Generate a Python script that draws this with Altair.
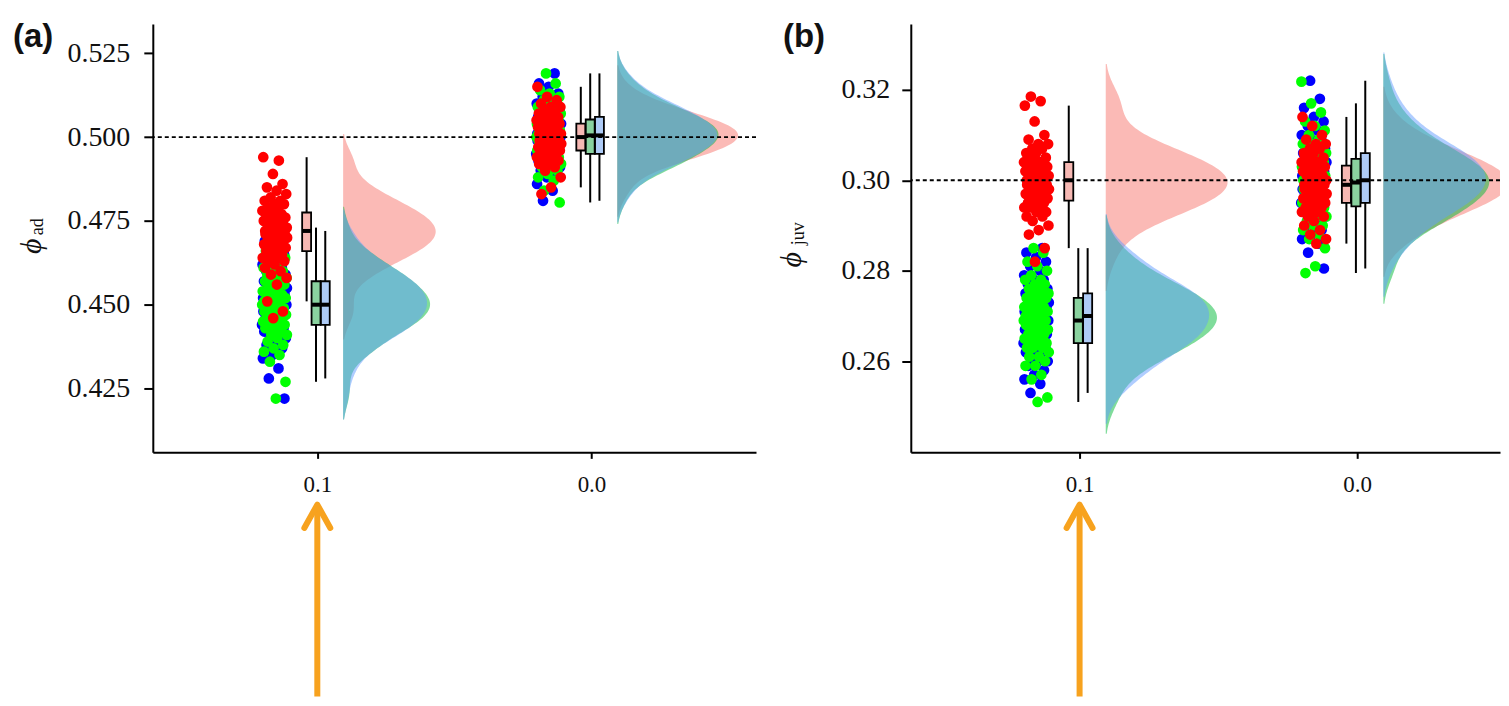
import altair as alt
import pandas as pd

# ---------------- data ----------------
CATEGORIES = ["0.1", "0.0"]          # x tick labels, left to right
HIGHLIGHT = "0.1"                    # category marked by the orange arrow
SERIES = ["blue", "green", "red"]    # drawing order of the jittered points

PANEL_LETTERS = ["(a)", "(b)"]
Y_SYMBOL = "ϕ"
Y_SUBSCRIPTS = ["ad", "juv"]
TRUE_VALUES = [0.500, 0.300]
Y_TICKS_A = [0.425, 0.450, 0.475, 0.500, 0.525]
Y_TICKS_B = [0.26, 0.28, 0.30, 0.32]

# panel (a): phi_ad
A01_RED = [0.472,0.472,0.473,0.473,0.474,0.474,0.474,0.475,0.475,0.475,0.476,0.476,0.476,0.477,0.477,0.478,0.478,0.479,0.479,0.480,0.480,0.481,0.481,0.482,0.483,0.484,0.485,0.486,0.489,0.494,0.493,
           0.472,0.471,0.471,0.471,0.470,0.470,0.470,0.469,0.469,0.469,0.468,0.468,0.467,0.467,0.467,0.466,0.466,0.465,0.465,0.464,0.464,0.463,0.463,0.462,0.461,0.460,0.459,0.458,0.456,0.451,0.448,0.446]
A01_GREEN = [0.451,0.451,0.451,0.452,0.452,0.453,0.453,0.453,0.454,0.454,0.455,0.455,0.456,0.456,0.457,0.457,0.458,0.458,0.459,0.459,0.460,0.460,0.461,0.462,0.463,0.464,0.465,0.466,0.468,0.473,
             0.450,0.450,0.450,0.449,0.449,0.448,0.448,0.448,0.447,0.447,0.446,0.446,0.445,0.445,0.445,0.444,0.444,0.443,0.443,0.442,0.441,0.441,0.440,0.439,0.438,0.437,0.436,0.435,0.433,0.427,0.422]
A01_BLUE = [0.451,0.451,0.452,0.452,0.452,0.453,0.453,0.454,0.454,0.454,0.455,0.455,0.456,0.456,0.457,0.457,0.458,0.458,0.459,0.459,0.460,0.461,0.461,0.462,0.463,0.464,0.465,0.467,0.469,0.472,
            0.450,0.450,0.449,0.449,0.449,0.448,0.448,0.447,0.447,0.447,0.446,0.446,0.445,0.445,0.444,0.444,0.443,0.443,0.442,0.442,0.441,0.440,0.440,0.439,0.438,0.437,0.435,0.434,0.431,0.428,0.422]
A00_RED = [0.501,0.501,0.501,0.501,0.502,0.502,0.502,0.502,0.503,0.503,0.503,0.504,0.504,0.504,0.504,0.505,0.505,0.505,0.506,0.506,0.507,0.507,0.507,0.508,0.509,0.509,0.510,0.511,0.512,0.515,
           0.500,0.500,0.500,0.500,0.499,0.499,0.499,0.498,0.498,0.498,0.498,0.497,0.497,0.497,0.496,0.496,0.496,0.496,0.495,0.495,0.494,0.494,0.493,0.493,0.492,0.492,0.491,0.490,0.488,0.485,0.483]
A00_GREEN = [0.501,0.501,0.501,0.501,0.502,0.502,0.503,0.503,0.503,0.504,0.504,0.504,0.505,0.505,0.505,0.506,0.506,0.507,0.507,0.508,0.508,0.509,0.509,0.510,0.511,0.512,0.513,0.514,0.516,0.519,
             0.500,0.500,0.500,0.499,0.499,0.499,0.498,0.498,0.498,0.497,0.497,0.496,0.496,0.496,0.495,0.495,0.494,0.494,0.493,0.493,0.492,0.492,0.491,0.491,0.490,0.489,0.488,0.487,0.484,0.4805]
A00_BLUE = [0.501,0.501,0.501,0.502,0.502,0.502,0.503,0.503,0.504,0.504,0.504,0.505,0.505,0.505,0.506,0.506,0.507,0.507,0.508,0.508,0.509,0.509,0.510,0.510,0.511,0.512,0.513,0.515,0.516,0.519,
            0.500,0.500,0.500,0.500,0.499,0.499,0.499,0.498,0.498,0.497,0.497,0.497,0.496,0.496,0.495,0.495,0.494,0.494,0.494,0.493,0.493,0.492,0.491,0.491,0.490,0.489,0.488,0.486,0.484,0.481]

# panel (b): phi_juv
B01_RED = [0.300,0.300,0.300,0.301,0.301,0.301,0.301,0.302,0.302,0.302,0.302,0.303,0.303,0.303,0.304,0.304,0.304,0.304,0.305,0.305,0.306,0.306,0.307,0.307,0.308,0.308,0.309,0.310,0.313,0.3165,0.3175,0.3185,
           0.299,0.299,0.299,0.299,0.298,0.298,0.298,0.298,0.297,0.297,0.297,0.296,0.296,0.296,0.296,0.295,0.295,0.295,0.294,0.294,0.294,0.293,0.293,0.292,0.292,0.291,0.290,0.289,0.288,0.285,0.282]
B01_GREEN = [0.270,0.270,0.270,0.271,0.271,0.271,0.272,0.272,0.272,0.272,0.273,0.273,0.274,0.274,0.274,0.275,0.275,0.275,0.276,0.276,0.277,0.277,0.278,0.278,0.279,0.280,0.281,0.282,0.284,0.285,
             0.269,0.269,0.269,0.269,0.268,0.268,0.268,0.267,0.267,0.267,0.266,0.266,0.266,0.265,0.265,0.264,0.264,0.264,0.263,0.263,0.263,0.262,0.261,0.261,0.260,0.259,0.259,0.257,0.256,0.252,0.251]
B01_BLUE = [0.270,0.270,0.271,0.271,0.271,0.272,0.272,0.272,0.273,0.273,0.273,0.274,0.274,0.274,0.275,0.275,0.276,0.276,0.276,0.277,0.277,0.278,0.278,0.279,0.280,0.281,0.282,0.283,0.284,0.285,
            0.270,0.269,0.269,0.268,0.268,0.268,0.267,0.267,0.267,0.266,0.266,0.266,0.265,0.265,0.264,0.264,0.264,0.263,0.263,0.262,0.262,0.261,0.260,0.260,0.259,0.258,0.257,0.256,0.255,0.253]
B00_RED = [0.299,0.300,0.300,0.300,0.301,0.301,0.301,0.301,0.302,0.302,0.302,0.303,0.303,0.303,0.303,0.304,0.304,0.304,0.305,0.305,0.306,0.306,0.307,0.307,0.308,0.308,0.309,0.310,0.312,0.314,
           0.299,0.299,0.299,0.298,0.298,0.298,0.298,0.297,0.297,0.297,0.297,0.296,0.296,0.296,0.295,0.295,0.295,0.294,0.294,0.293,0.293,0.293,0.292,0.292,0.291,0.290,0.289,0.288,0.287,0.286]
B00_GREEN = [0.300,0.300,0.300,0.301,0.301,0.301,0.302,0.302,0.302,0.303,0.303,0.303,0.304,0.304,0.304,0.305,0.305,0.306,0.306,0.307,0.307,0.308,0.308,0.309,0.310,0.311,0.312,0.313,0.315,0.317,0.3218,
             0.299,0.299,0.299,0.299,0.298,0.298,0.298,0.297,0.297,0.297,0.296,0.296,0.295,0.295,0.295,0.294,0.294,0.293,0.293,0.293,0.292,0.292,0.291,0.290,0.290,0.289,0.288,0.287,0.285,0.281,0.2795]
B00_BLUE = [0.300,0.301,0.301,0.301,0.302,0.302,0.302,0.303,0.303,0.304,0.304,0.304,0.305,0.305,0.305,0.306,0.306,0.306,0.307,0.307,0.308,0.309,0.309,0.310,0.311,0.312,0.313,0.314,0.316,0.318,0.322,
            0.300,0.300,0.299,0.299,0.299,0.298,0.298,0.298,0.297,0.297,0.297,0.296,0.296,0.295,0.295,0.295,0.294,0.294,0.293,0.293,0.292,0.292,0.291,0.290,0.289,0.288,0.287,0.286,0.284,0.2805]

GROUPS_A = {("0.1", "red"): A01_RED, ("0.1", "green"): A01_GREEN, ("0.1", "blue"): A01_BLUE,
            ("0.0", "red"): A00_RED, ("0.0", "green"): A00_GREEN, ("0.0", "blue"): A00_BLUE}
GROUPS_B = {("0.1", "red"): B01_RED, ("0.1", "green"): B01_GREEN, ("0.1", "blue"): B01_BLUE,
            ("0.0", "red"): B00_RED, ("0.0", "green"): B00_GREEN, ("0.0", "blue"): B00_BLUE}

# ---------------- styles / layout ----------------
POINT_COLORS = {"red": "#FF0000", "green": "#00FF00", "blue": "#0000FF"}
DENS_COLORS = {"red": "#F8766D", "green": "#00BA38", "blue": "#619CFF"}
BOX_FILLS = {"red": "#F6B8B3", "green": "#8AD29F", "blue": "#AECBF6"}
ORANGE = "#F7A21E"
SERIF = "Liberation Serif"

H = 429
POFF, JW = -0.156, 0.046                   # points: centre offset, jitter half width
BOFF = {"red": -0.039, "green": -0.0047, "blue": 0.029}
BHW = 0.0163                               # box half width
VOFF = 0.0942                              # violin baseline offset
BW = 0.0036                                # kde bandwidth
ARROW = "M-1,0.9L0,-0.9L1,0.9"

LAYOUT = [
    dict(width=604, xdom=[0.4, 2.6], ydom=[0.40595, 0.53375], fmt=".3f", ticks=Y_TICKS_A, K=0.0080,
         groups=GROUPS_A, letter_dx=-140, phi=(-121, 222.7), sub=(-114.5, 203), lpad=14),
    dict(width=590, xdom=[0.392, 2.5143], ydom=[0.23986, 0.33455], fmt=".2f", ticks=Y_TICKS_B, K=0.0082,
         groups=GROUPS_B, letter_dx=-128, phi=(-119, 236), sub=(-112, 210), lpad=12),
]


def make_panel(k):
    L = LAYOUT[k]
    rows = []
    for color in SERIES:
        for ci, cat in enumerate(CATEGORIES):
            for i, v in enumerate(L["groups"][(cat, color)]):
                rows.append({"pos": ci + 1, "color": color, "value": v, "i": i})
    df = pd.DataFrame(rows)

    xs = alt.Scale(domain=L["xdom"], nice=False, zero=False)
    ys = alt.Scale(domain=L["ydom"], nice=False, zero=False)
    label_expr = "[" + ",".join(f"'{c}'" for c in CATEGORIES) + "][datum.value - 1]"
    xaxis = alt.Axis(values=[1, 2], labelExpr=label_expr, title=None, grid=False,
                     domainColor="black", domainWidth=2, tickColor="black", tickWidth=2,
                     tickSize=6, labelFont=SERIF, labelFontSize=23, labelColor="#111111",
                     labelPadding=15)
    yaxis = alt.Axis(values=L["ticks"], format=L["fmt"], title=None, grid=False,
                     domainColor="black", domainWidth=2, tickColor="black", tickWidth=2,
                     tickSize=9, labelFont=SERIF, labelFontSize=28, labelColor="#111111",
                     labelPadding=L["lpad"])

    def X(f):
        return alt.X(f, type="quantitative", scale=xs, axis=xaxis)

    def Y(f):
        return alt.Y(f, type="quantitative", scale=ys, axis=yaxis)

    base = alt.Chart(df)
    layers = []
    for color in ["red", "green", "blue"]:
        layers.append(
            base.transform_filter(alt.datum.color == color)
            .transform_density("value", as_=["value", "density"], groupby=["pos"],
                               extent=L["ydom"], bandwidth=BW, steps=300)
            .transform_filter("datum.density > 0.4")
            .transform_calculate(x0=f"datum.pos + {VOFF}")
            .transform_calculate(x1=f"datum.pos + {VOFF} + datum.density * {L['K']}")
            .mark_area(orient="horizontal", color=DENS_COLORS[color], opacity=0.5, clip=True)
            .encode(y=Y("value"), x=X("x1"), x2=alt.X2("x0"), detail="pos:N")
        )

    points = (
        base.transform_calculate(seed="datum.color == 'red' ? 0.13 : datum.color == 'green' ? 0.47 : 0.81")
        .transform_calculate(xj=f"datum.pos + {POFF} + ((datum.i * 0.6180339887 + datum.seed) % 1 - 0.5) * {2 * JW}")
        .mark_circle(size=115, opacity=1)
        .encode(x=X("xj"), y=Y("value"),
                color=alt.Color("color:N", scale=alt.Scale(domain=list(POINT_COLORS), range=list(POINT_COLORS.values())), legend=None))
    )

    boff_expr = (f"datum.pos + (datum.color == 'red' ? {BOFF['red']} : "
                 f"datum.color == 'green' ? {BOFF['green']} : {BOFF['blue']})")
    stats = (
        base.transform_joinaggregate(q1="q1(value)", q3="q3(value)", med="median(value)", groupby=["pos", "color"])
        .transform_calculate(lo="datum.q1 - 1.5 * (datum.q3 - datum.q1)")
        .transform_calculate(hi="datum.q3 + 1.5 * (datum.q3 - datum.q1)")
        .transform_filter("datum.value >= datum.lo && datum.value <= datum.hi")
        .transform_aggregate(wlo="min(value)", whi="max(value)", q1="max(q1)", q3="max(q3)", med="max(med)",
                             groupby=["pos", "color"])
        .transform_calculate(bx=boff_expr)
        .transform_calculate(bl=f"datum.bx - {BHW}")
        .transform_calculate(br=f"datum.bx + {BHW}")
    )
    whisk = stats.mark_rule(color="black", strokeWidth=2).encode(x=X("bx"), y=Y("wlo"), y2=alt.Y2("whi"))
    box = stats.mark_rect(stroke="black", strokeWidth=1.8).encode(
        x=X("bl"), x2=alt.X2("br"), y=Y("q1"), y2=alt.Y2("q3"),
        fill=alt.Fill("color:N", scale=alt.Scale(domain=list(BOX_FILLS), range=list(BOX_FILLS.values())), legend=None))
    med = stats.mark_rule(color="black", strokeWidth=4).encode(x=X("bl"), x2=alt.X2("br"), y=Y("med"))

    truth = (alt.Chart(pd.DataFrame({"truth": [TRUE_VALUES[k]]}))
             .mark_rule(color="black", strokeWidth=1.8, strokeDash=[4, 3])
             .encode(y=Y("truth")))

    adf = pd.DataFrame({"p": [CATEGORIES.index(HIGHLIGHT) + 1]})
    shaft = alt.Chart(adf).mark_rule(color=ORANGE, strokeWidth=6).encode(
        x=X("p"), y=alt.value(H + 54), y2=alt.value(H + 244.5))
    head = alt.Chart(adf).mark_point(shape=ARROW, filled=False, strokeWidth=6, strokeCap="round",
                                     strokeJoin="round", size=676, color=ORANGE, opacity=1).encode(
        x=X("p"), y=alt.value(H + 64))

    letter = alt.Chart(pd.DataFrame({"t": [PANEL_LETTERS[k]]})).mark_text(
        font="Liberation Sans", fontWeight="bold", fontSize=33, align="left", baseline="middle",
        color="#111111").encode(text="t:N", x=alt.value(L["letter_dx"]), y=alt.value(12.7))
    phi = alt.Chart(pd.DataFrame({"t": [Y_SYMBOL]})).mark_text(
        font=SERIF, fontStyle="italic", fontSize=30, angle=270, align="center", baseline="middle",
        color="#111111").encode(text="t:N", x=alt.value(L["phi"][0]), y=alt.value(L["phi"][1]))
    sub = alt.Chart(pd.DataFrame({"t": [Y_SUBSCRIPTS[k]]})).mark_text(
        font=SERIF, fontSize=18, angle=270, align="center", baseline="middle",
        color="#111111").encode(text="t:N", x=alt.value(L["sub"][0]), y=alt.value(L["sub"][1]))

    return alt.layer(*layers, points, whisk, box, med, truth, shaft, head, letter, phi, sub).properties(
        width=L["width"], height=H)


chart = (
    alt.hconcat(make_panel(0), make_panel(1), spacing=20)
    .properties(padding={"left": 5, "top": 11.5, "right": 0, "bottom": 3})
    .configure_view(stroke=None)
)

chart.save("out.html", embed_options={"renderer": "svg", "actions": False})
